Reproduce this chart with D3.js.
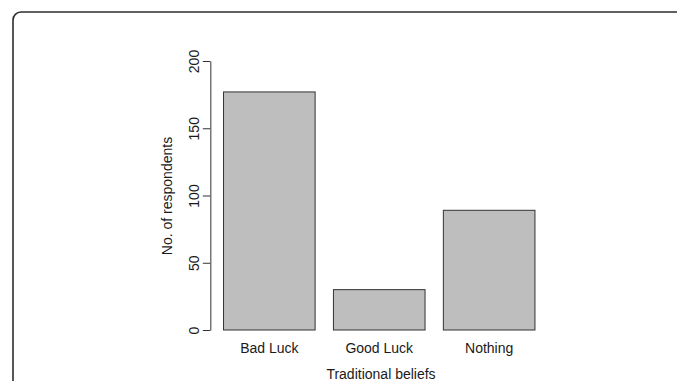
<!DOCTYPE html>
<html>
<head>
<meta charset="utf-8">
<script src="https://cdn.jsdelivr.net/npm/d3@7"></script>
<style>
  html, body { margin: 0; padding: 0; background: #fff; }
  svg { display: block; }
  text { font-family: "Liberation Sans", Arial, sans-serif; fill: #1a1a1a; }
</style>
</head>
<body>
<svg id="chart" width="677" height="381"></svg>
<script>
// Responses to "traditional beliefs"
const categories = ["Bad Luck", "Good Luck", "Nothing"];
const respondents = [177, 30, 89];
const yTicks = [0, 50, 100, 150, 200];
const xTitle = "Traditional beliefs";
const yTitle = "No. of respondents";

const svg = d3.select("#chart");

// Panel frame with a rounded corner
svg.append("rect")
  .attr("x", 13).attr("y", 12)
  .attr("width", 720).attr("height", 420)
  .attr("rx", 8).attr("ry", 8)
  .attr("fill", "none")
  .attr("stroke", "#2e2e2e")
  .attr("stroke-width", 1.6);

// Bar-plot units: each bar is 1 wide with 0.2 gap before it
const xUnit = d3.scaleLinear().domain([0, 3.6]).range([205.2, 205.2 + 3.6 * 91.6]);
const x = d3.scaleBand()
  .domain(categories)
  .range([xUnit(0), xUnit(3.6)])
  .paddingInner(0.2 / 1.2)
  .paddingOuter(0.1 / 1.2)
  .align(1);

const y = d3.scaleLinear().domain([0, 200]).range([330, 61]);
const axisX = xUnit(0.056);

// Bars
svg.append("g")
  .selectAll("rect")
  .data(categories)
  .join("rect")
  .attr("x", d => x(d))
  .attr("y", (d, i) => y(respondents[i]))
  .attr("width", x.bandwidth())
  .attr("height", (d, i) => y(0) - y(respondents[i]))
  .attr("fill", "#bebebe")
  .attr("stroke", "#333")
  .attr("stroke-width", 1);

// Y axis
const gy = svg.append("g")
  .attr("transform", `translate(${axisX},0)`)
  .call(d3.axisLeft(y).tickValues(yTicks).tickSize(7.5).tickSizeOuter(0));
gy.select(".domain").attr("stroke", "#333");
gy.selectAll(".tick line").attr("stroke", "#333");
gy.selectAll(".tick text")
  .attr("transform", "rotate(-90)")
  .attr("x", 0)
  .attr("y", -11.5)
  .attr("dy", 0)
  .attr("text-anchor", "middle")
  .style("font-size", "14px")
  .style("font-family", "'Liberation Sans', Arial, sans-serif")
  .attr("fill", "#1a1a1a");

// Category labels under the bars
svg.append("g")
  .selectAll("text")
  .data(categories)
  .join("text")
  .attr("x", d => x(d) + x.bandwidth() / 2)
  .attr("y", 352.7)
  .attr("text-anchor", "middle")
  .style("font-size", "14px")
  .text(d => d);

// Axis titles
svg.append("text")
  .attr("x", 381)
  .attr("y", 378.5)
  .attr("text-anchor", "middle")
  .style("font-size", "14px")
  .text(xTitle);

svg.append("text")
  .attr("transform", `translate(171.5,196) rotate(-90)`)
  .attr("text-anchor", "middle")
  .style("font-size", "14px")
  .text(yTitle);
</script>
</body>
</html>
